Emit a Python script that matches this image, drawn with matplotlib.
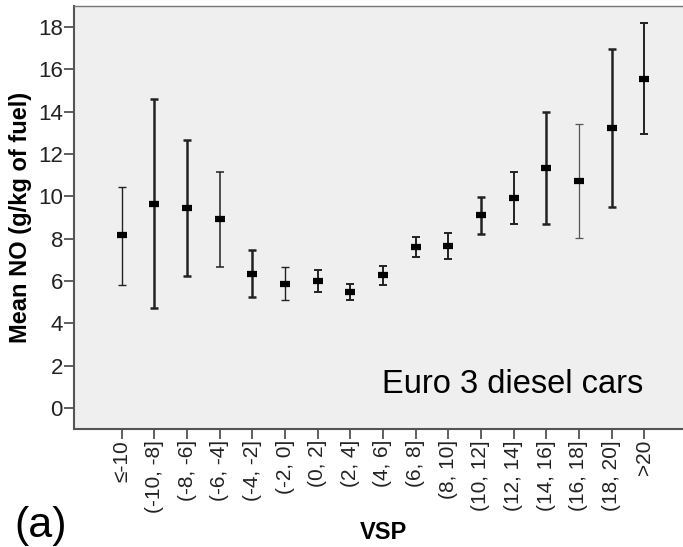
import numpy as np
import matplotlib.pyplot as plt

plt.rcParams['font.family'] = ['Liberation Sans', 'DejaVu Sans']

# VSP bins and mean NO with 95% CI bounds
categories = ['≤-10', '(-10, -8]', '(-8, -6]', '(-6, -4]', '(-4, -2]', '(-2, 0]',
              '(0, 2]', '(2, 4]', '(4, 6]', '(6, 8]', '(8, 10]', '(10, 12]',
              '(12, 14]', '(14, 16]', '(16, 18]', '(18, 20]', '>20']
means = [8.17, 9.65, 9.43, 8.91, 6.35, 5.87, 6.02, 5.47, 6.26, 7.62, 7.66,
         9.10, 9.92, 11.33, 10.72, 13.22, 15.57]
upper = [10.45, 14.60, 12.68, 11.14, 7.46, 6.65, 6.51, 5.87, 6.69, 8.09, 8.26,
         9.98, 11.16, 14.00, 13.41, 16.98, 18.21]
lower = [5.83, 4.70, 6.23, 6.65, 5.25, 5.08, 5.50, 5.08, 5.83, 7.13, 7.05,
         8.20, 8.67, 8.67, 8.02, 9.51, 12.96]
yticks = [0, 2, 4, 6, 8, 10, 12, 14, 16, 18]

# line weight of each error bar as rendered in the original
widths = [1.0, 1.8, 1.8, 1.1, 1.8, 1.0, 1.4, 1.4, 1.4, 1.4, 1.4, 1.8, 1.4, 1.8, 0.9, 1.8, 1.4]
shades = ['#222222'] * len(categories)
shades[14] = '#555555'

fig = plt.figure(figsize=(6.83, 5.47), dpi=100)
ax = fig.add_axes([74 / 683, 1 - 429 / 547, (692 - 74) / 683, (429 - 6) / 547])
ax.set_facecolor('#efefef')

x = np.arange(len(categories))
m = np.array(means)
for i in x:
    ax.errorbar(x[i], m[i], yerr=[[m[i] - lower[i]], [upper[i] - m[i]]],
                fmt='none', ecolor=shades[i], elinewidth=widths[i],
                capsize=3.0, capthick=widths[i])
ax.plot(x, m, linestyle='none', marker='_', markersize=7, markeredgewidth=4.5,
        color='black', zorder=3)

ax.set_xlim(-1.46, len(categories) - 1 + 1.46)
ax.set_ylim(-1, 19)
ax.set_yticks(yticks)
ax.set_xticks(x)
ax.set_xticklabels(categories, rotation=90)
ax.tick_params(axis='both', length=7, width=1.2, color='#444444',
               labelcolor='#222222', pad=1)
ax.tick_params(axis='y', labelsize=16)
ax.tick_params(axis='x', labelsize=15)

for side in ['left', 'bottom']:
    ax.spines[side].set_color('#555555')
    ax.spines[side].set_linewidth(1.5)
ax.spines['top'].set_color('#777777')
ax.spines['top'].set_linewidth(1.0)
ax.spines['right'].set_visible(False)

ax.set_ylabel('Mean NO (g/kg of fuel)', fontsize=17, fontweight='bold', labelpad=4)
ax.set_xlabel('VSP', fontsize=17, fontweight='bold', labelpad=6)

ax.text(0.498, 0.105, 'Euro 3 diesel cars', transform=ax.transAxes,
        fontsize=23.5, ha='left', va='center', color='black')
fig.text(14 / 683, 1 - 526 / 547, '(a)', fontsize=31, ha='left', va='center')

fig.savefig('out.png', dpi=100)
